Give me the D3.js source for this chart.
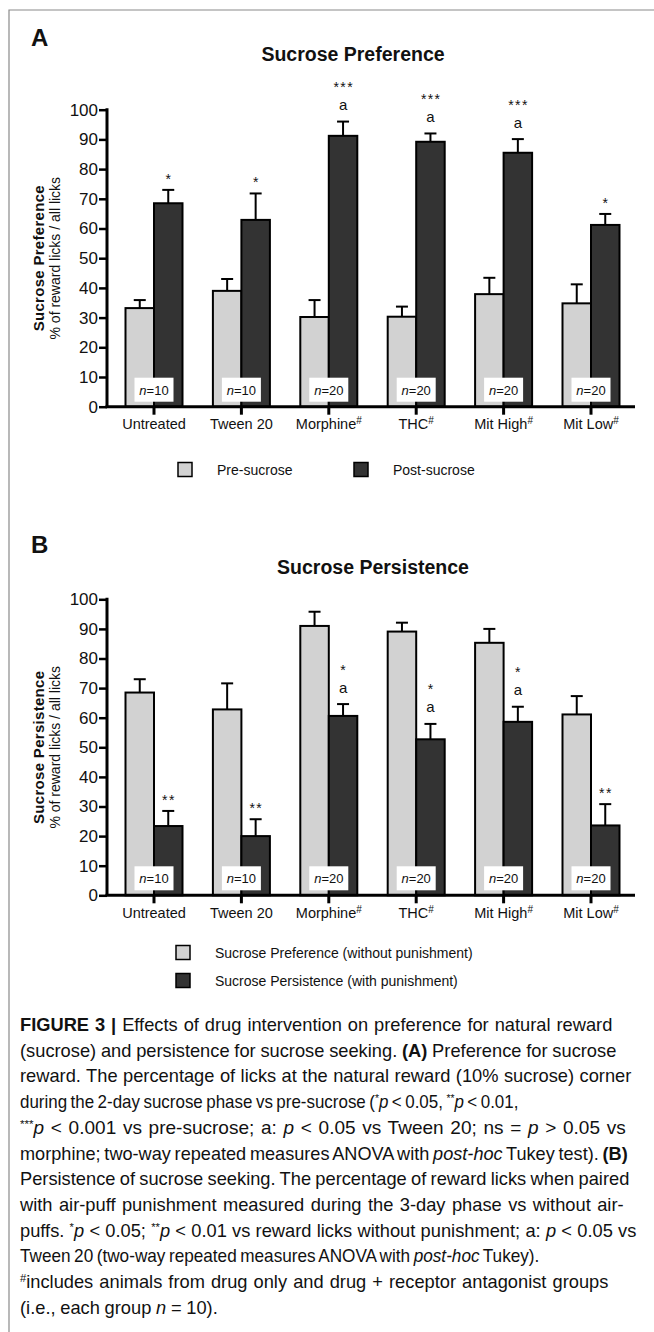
<!DOCTYPE html>
<html>
<head>
<meta charset="utf-8">
<script src="https://cdn.jsdelivr.net/npm/d3@7"></script>
<style>
  body { margin: 0; background: #fff; }
  svg text { font-family: "Liberation Sans", Arial, sans-serif; fill: #111; }
</style>
</head>
<body>
<script>
// values (% of reward licks / all licks, mean and upper SEM)
var groups = ["Untreated", "Tween 20", "Morphine", "THC", "Mit High", "Mit Low"];
var hashMark = [false, false, true, true, true, true];
var nLabels = ["10", "10", "20", "20", "20", "20"];
var yTicks = [0, 10, 20, 30, 40, 50, 60, 70, 80, 90, 100];

// panel A: sucrose preference
var preSucrose = [33.2, 39.0, 30.2, 30.3, 37.9, 34.8];
var preSucroseErr = [2.7, 4.0, 5.7, 3.4, 5.5, 6.4];
var postSucrose = [68.5, 62.9, 91.2, 89.2, 85.5, 61.2];
var postSucroseErr = [4.5, 8.9, 4.8, 2.8, 4.6, 3.7];
var starsA = ["*", "*", "***", "***", "***", "*"];
var lettersA = ["", "", "a", "a", "a", ""];

// panel B: sucrose persistence
var prefNoPunish = [68.5, 62.8, 91.0, 89.1, 85.3, 61.1];
var prefNoPunishErr = [4.5, 8.8, 4.8, 3.0, 4.7, 6.2];
var persistPunish = [23.4, 20.0, 60.6, 52.7, 58.6, 23.6];
var persistPunishErr = [5.1, 5.7, 4.0, 5.2, 5.1, 7.2];
var starsB = ["**", "**", "*", "*", "*", "**"];
var lettersB = ["", "", "a", "a", "a", ""];

// caption lines: [text, style] where style is b / i / sup / ""
var captionLines = [
  [["FIGURE 3 | ", "b"], ["Effects of drug intervention on preference for natural reward", ""]],
  [["(sucrose) and persistence for sucrose seeking. ", ""], ["(A)", "b"], [" Preference for sucrose", ""]],
  [["reward. The percentage of licks at the natural reward (10% sucrose) corner", ""]],
  [["during the 2-day sucrose phase vs pre-sucrose (", ""], ["*", "sup"], ["p", "i"], [" < 0.05, ", ""], ["**", "sup"], ["p", "i"], [" < 0.01,", ""]],
  [["***", "sup"], ["p", "i"], [" < 0.001 vs pre-sucrose; a: ", ""], ["p", "i"], [" < 0.05 vs Tween 20; ns = ", ""], ["p", "i"], [" > 0.05 vs", ""]],
  [["morphine; two-way repeated measures ANOVA with ", ""], ["post-hoc", "i"], [" Tukey test). ", ""], ["(B)", "b"]],
  [["Persistence of sucrose seeking. The percentage of reward licks when paired", ""]],
  [["with air-puff punishment measured during the 3-day phase vs without air-", ""]],
  [["puffs. ", ""], ["*", "sup"], ["p", "i"], [" < 0.05; ", ""], ["**", "sup"], ["p", "i"], [" < 0.01 vs reward licks without punishment; a: ", ""], ["p", "i"], [" < 0.05 vs", ""]],
  [["Tween 20 (two-way repeated measures ANOVA with ", ""], ["post-hoc", "i"], [" Tukey).", ""]],
  [["#", "sup"], ["includes animals from drug only and drug + receptor antagonist groups", ""]],
  [["(i.e., each group ", ""], ["n", "i"], [" = 10).", ""]]
];
var captionEnds = [613, 617, 632, 519, 626, 628, 630, 625, 637, 540, 609, 218];

var width = 654, height = 1332;
var lightFill = "#d2d2d2", darkFill = "#333333";

var svg = d3.select("body").append("svg")
    .attr("width", width)
    .attr("height", height);

// thin frame on the left and top
svg.append("path")
    .attr("d", "M9," + height + "V10H" + width)
    .attr("fill", "none")
    .attr("stroke", "#8a8a8a")
    .attr("stroke-width", 1.2);

var axisX = 107;
var x0 = d3.scaleBand().domain(groups).range([110.3, 634.7]).padding(0);
var x1 = d3.scaleBand().domain([0, 1]).range([-28.5, 28.5]).padding(0);

function drawPanel(o) {
  var y = d3.scaleLinear().domain([0, 100]).range([o.bottom, o.top]);
  var g = svg.append("g");

  g.append("text").attr("x", 31).attr("y", o.letterY)
      .attr("font-size", "24px").attr("font-weight", "bold").text(o.letter);
  g.append("text").attr("x", o.titleX).attr("y", o.titleY)
      .attr("text-anchor", "middle").attr("font-size", "19.5px").attr("font-weight", "bold")
      .text(o.title);

  // y axis title (two lines)
  var cy = (o.top + o.bottom) / 2;
  g.append("text").attr("transform", "translate(43.5," + cy + ") rotate(-90)")
      .attr("text-anchor", "middle").attr("font-size", "15px").attr("font-weight", "bold")
      .attr("letter-spacing", "0.3px").text(o.ytitle);
  g.append("text").attr("transform", "translate(60," + cy + ") rotate(-90)")
      .attr("text-anchor", "middle").attr("font-size", "14px")
      .text("% of reward licks / all licks");

  var series = [
    {vals: o.first, errs: o.firstErr, fill: lightFill},
    {vals: o.second, errs: o.secondErr, fill: darkFill}
  ];

  series.forEach(function(s, k) {
    var bg = g.append("g");
    bg.selectAll("rect").data(groups).enter().append("rect")
        .attr("x", function(d) { return x0(d) + x0.bandwidth() / 2 + x1(k); })
        .attr("y", function(d, i) { return y(s.vals[i]); })
        .attr("width", x1.bandwidth())
        .attr("height", function(d, i) { return o.bottom - y(s.vals[i]); })
        .attr("fill", s.fill)
        .attr("stroke", "#000")
        .attr("stroke-width", 2);
    var eg = bg.selectAll("g.err").data(groups).enter().append("g")
        .attr("transform", function(d) {
          return "translate(" + (x0(d) + x0.bandwidth() / 2 + x1(k) + x1.bandwidth() / 2) + ",0)";
        });
    eg.append("line")
        .attr("y1", function(d, i) { return y(s.vals[i]); })
        .attr("y2", function(d, i) { return y(s.vals[i] + s.errs[i]); })
        .attr("stroke", "#000").attr("stroke-width", 2);
    eg.append("line")
        .attr("x1", -6).attr("x2", 6)
        .attr("y1", function(d, i) { return y(s.vals[i] + s.errs[i]); })
        .attr("y2", function(d, i) { return y(s.vals[i] + s.errs[i]); })
        .attr("stroke", "#000").attr("stroke-width", 2);
  });

  // significance marks over the dark bars
  groups.forEach(function(d, i) {
    var cx = x0(d) + x0.bandwidth() / 2 + x1(1) + x1.bandwidth() / 2;
    var cap = y(o.second[i] + o.secondErr[i]);
    if (o.letters[i]) {
      g.append("text").attr("x", cx).attr("y", cap - 11.5)
          .attr("text-anchor", "middle").attr("font-size", "15px").text(o.letters[i]);
      g.append("text").attr("x", cx + 0.7).attr("y", cap - 29.5)
          .attr("text-anchor", "middle").attr("font-size", "14px")
          .attr("letter-spacing", "1.4px").text(o.stars[i]);
    } else {
      g.append("text").attr("x", cx + 0.7).attr("y", cap - 6)
          .attr("text-anchor", "middle").attr("font-size", "14px")
          .attr("letter-spacing", "1.4px").text(o.stars[i]);
    }
  });

  // n= boxes
  var nb = g.selectAll("g.nbox").data(groups).enter().append("g")
      .attr("transform", function(d) { return "translate(" + (x0(d) + x0.bandwidth() / 2) + "," + o.bottom + ")"; });
  nb.append("rect").attr("x", -19.5).attr("y", -29).attr("width", 39).attr("height", 24)
      .attr("fill", "#fff");
  var nt = nb.append("text").attr("y", -12).attr("text-anchor", "middle").attr("font-size", "13px");
  nt.append("tspan").attr("font-style", "italic").text("n");
  nt.append("tspan").text(function(d, i) { return "=" + nLabels[i]; });

  // axes
  var ya = g.append("g").attr("transform", "translate(" + axisX + ",0)")
      .call(d3.axisLeft(y).tickValues(yTicks).tickSize(8).tickSizeOuter(0).tickPadding(1));
  ya.select(".domain").attr("stroke-width", 3).attr("d", "M0," + (o.top - 1.5) + "V" + o.bottom);
  ya.selectAll(".tick line").attr("stroke-width", 2.5);
  ya.selectAll(".tick text").attr("font-size", "17px").attr("font-family", "Liberation Sans, Arial, sans-serif").attr("fill", "#111");

  var xa = g.append("g").attr("transform", "translate(0," + o.bottom + ")")
      .call(d3.axisBottom(x0).tickSize(8).tickSizeOuter(0).tickPadding(4));
  xa.select(".domain").attr("stroke-width", 3).attr("d", "M" + (axisX - 1.5) + ",0H635");
  xa.selectAll(".tick line").attr("stroke-width", 3);
  xa.selectAll(".tick text")
      .attr("font-size", "14.5px").attr("font-family", "Liberation Sans, Arial, sans-serif").attr("fill", "#111")
      .each(function(d, i) {
        if (hashMark[i]) {
          d3.select(this).append("tspan").attr("dy", "-0.45em").attr("font-size", "10px").text("#");
        }
      });
}

drawPanel({
  top: 109.7, bottom: 406.7,
  letter: "A", letterY: 46,
  title: "Sucrose Preference", titleX: 353, titleY: 60.7,
  ytitle: "Sucrose Preference",
  first: preSucrose, firstErr: preSucroseErr,
  second: postSucrose, secondErr: postSucroseErr,
  stars: starsA, letters: lettersA
});

drawPanel({
  top: 599.3, bottom: 895.3,
  letter: "B", letterY: 553,
  title: "Sucrose Persistence", titleX: 373, titleY: 573.5,
  ytitle: "Sucrose Persistence",
  first: prefNoPunish, firstErr: prefNoPunishErr,
  second: persistPunish, secondErr: persistPunishErr,
  stars: starsB, letters: lettersB
});

// legends
function legendItem(x, y, fill, label) {
  svg.append("rect").attr("x", x).attr("y", y - 7.5).attr("width", 14).attr("height", 14)
      .attr("fill", fill).attr("stroke", "#000").attr("stroke-width", 1.5);
  svg.append("text").attr("x", x + 39).attr("y", y + 5).attr("font-size", "14px").text(label);
}
legendItem(178, 470, lightFill, "Pre-sucrose");
legendItem(354, 470, darkFill, "Post-sucrose");
legendItem(176, 953, lightFill, "Sucrose Preference (without punishment)");
legendItem(176, 981, darkFill, "Sucrose Persistence (with punishment)");

// caption: one condensed scale for all lines, word spacing nudged a little
// and the rest taken up by glyph scaling so each line ends where it does in the figure
var capStart = 20, capY = 1031, capStep = 25.7;
var capTexts = captionLines.map(function(line) {
  var t = svg.append("text")
      .attr("x", 0).attr("y", 0)
      .attr("font-size", "18px")
      .attr("fill", "#1a1a1a");
  line.forEach(function(seg) {
    var ts = t.append("tspan").text(seg[0]);
    if (seg[1] === "b") ts.attr("font-weight", "bold");
    if (seg[1] === "i") ts.attr("font-style", "italic");
    if (seg[1] === "sup") ts.attr("font-size", "11px").attr("baseline-shift", "super");
  });
  return t;
});
var ratios = capTexts.map(function(t, li) {
  return (captionEnds[li] - capStart) / t.node().getBBox().width;
});
var sx = d3.median(ratios.slice(0, 10));
capTexts.forEach(function(t, li) {
  var w = t.node().getBBox().width;
  var spaces = t.text().split(" ").length - 1;
  var need = (captionEnds[li] - capStart) / sx - w;
  var ws = spaces ? Math.max(-1.3, Math.min(1.3, need / spaces)) : 0;
  t.attr("word-spacing", ws + "px");
  var w2 = t.node().getBBox().width;
  var s = (captionEnds[li] - capStart) / w2;
  t.attr("transform", "translate(" + capStart + "," + (capY + li * capStep) + ") scale(" + s + ",1)");
});
</script>
</body>
</html>
